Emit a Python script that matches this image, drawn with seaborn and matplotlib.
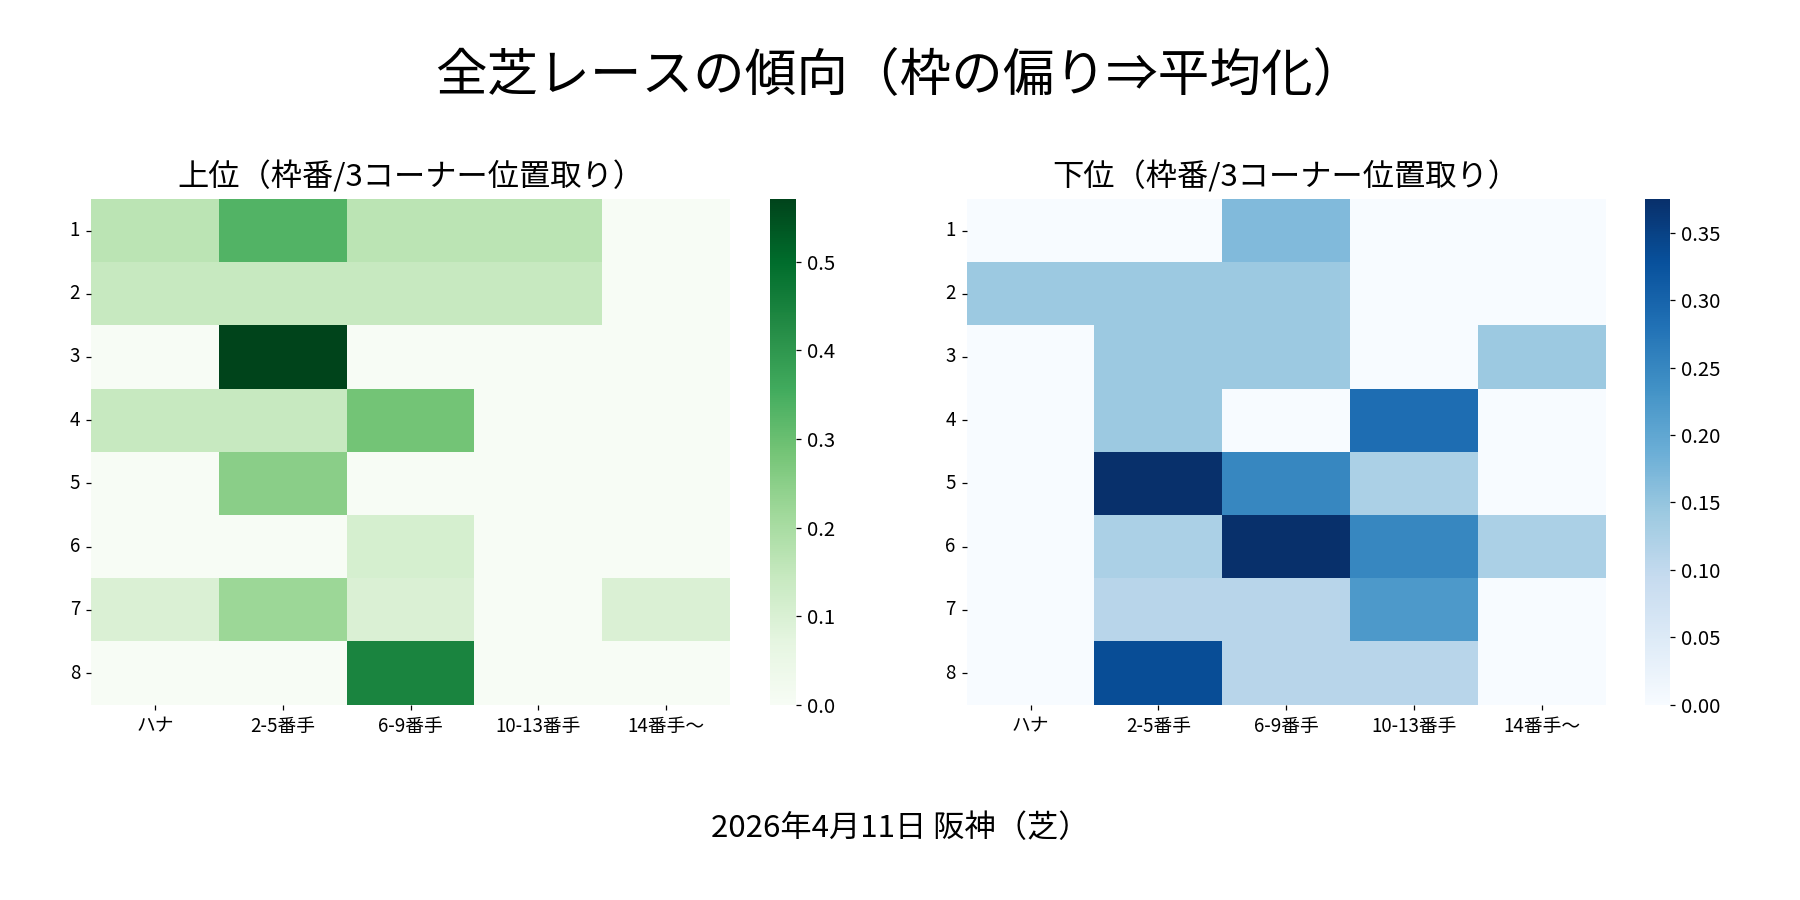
import numpy as np
import pandas as pd
import matplotlib
matplotlib.use("Agg")
import matplotlib.pyplot as plt
import seaborn as sns

plt.rcParams['font.family'] = ['Noto Sans CJK JP', 'DejaVu Sans']

# rows: 枠番 1-8, columns: 3コーナー位置取り
waku = ["1", "2", "3", "4", "5", "6", "7", "8"]
positions = ["ハナ", "2-5番手", "6-9番手", "10-13番手", "14番手〜"]

# upper (上位) share
upper_vals = [
    [0.167, 0.333, 0.167, 0.167, 0.0],
    [0.143, 0.143, 0.143, 0.143, 0.0],
    [0.0, 0.571, 0.0, 0.0, 0.0],
    [0.143, 0.143, 0.286, 0.0, 0.0],
    [0.0, 0.25, 0.0, 0.0, 0.0],
    [0.0, 0.0, 0.111, 0.0, 0.0],
    [0.1, 0.222, 0.1, 0.0, 0.1],
    [0.0, 0.0, 0.444, 0.0, 0.0],
]

# lower (下位) share
lower_vals = [
    [0.0, 0.0, 0.167, 0.0, 0.0],
    [0.143, 0.143, 0.143, 0.0, 0.0],
    [0.0, 0.143, 0.143, 0.0, 0.143],
    [0.0, 0.143, 0.0, 0.286, 0.0],
    [0.0, 0.375, 0.25, 0.125, 0.0],
    [0.0, 0.125, 0.375, 0.25, 0.125],
    [0.0, 0.111, 0.111, 0.222, 0.0],
    [0.0, 0.333, 0.111, 0.111, 0.0],
]

upper_df = pd.DataFrame(upper_vals, index=waku, columns=positions)
lower_df = pd.DataFrame(lower_vals, index=waku, columns=positions)

fig = plt.figure(figsize=(16, 8), dpi=112.5)

ax1 = fig.add_axes([0.0506, 0.217, 0.355, 0.562])
cax1 = fig.add_axes([0.428, 0.217, 0.014, 0.562])
ax2 = fig.add_axes([0.537, 0.217, 0.355, 0.562])
cax2 = fig.add_axes([0.914, 0.217, 0.014, 0.562])

sns.heatmap(upper_df, ax=ax1, cbar_ax=cax1, cmap="Greens", vmin=0)
sns.heatmap(lower_df, ax=ax2, cbar_ax=cax2, cmap="Blues", vmin=0)

for ax, title in [(ax1, "上位（枠番/3コーナー位置取り）"), (ax2, "下位（枠番/3コーナー位置取り）")]:
    ax.set_title(title, fontsize=20, pad=8)
    ax.set_xlabel("")
    ax.set_ylabel("")
    ax.tick_params(axis="x", labelsize=12, rotation=0)
    ax.tick_params(axis="y", labelsize=12, rotation=0)

for cax in (cax1, cax2):
    cax.tick_params(labelsize=13)

fig.suptitle("全芝レースの傾向（枠の偏り⇒平均化）", fontsize=33, y=0.945)
fig.text(0.5, 0.07, "2026年4月11日 阪神（芝）", ha="center", fontsize=20)

fig.savefig("out.png", dpi=112.5)
